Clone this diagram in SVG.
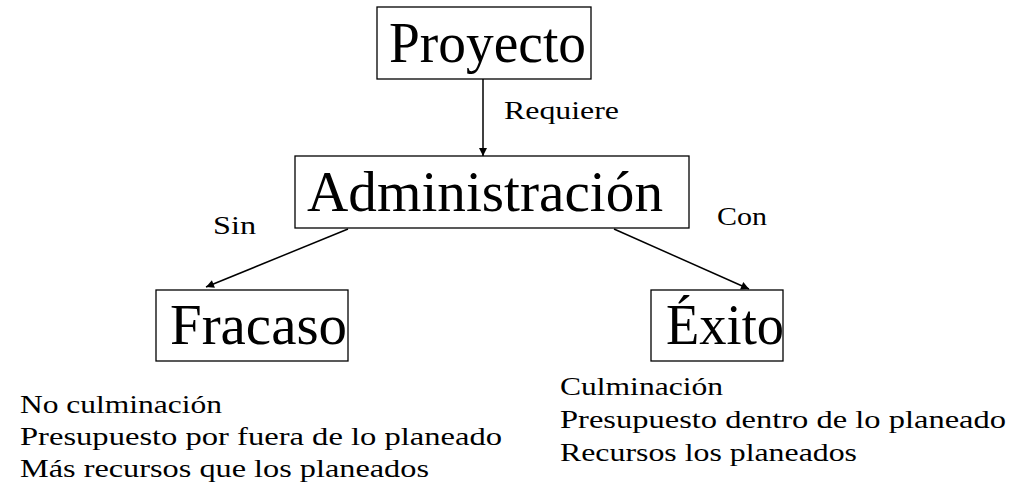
<svg xmlns="http://www.w3.org/2000/svg" width="1013" height="499" viewBox="0 0 1013 499">
<style>
.box{fill:#fff;stroke:#000;stroke-width:1.3}
.big{font-family:"Liberation Serif","DejaVu Serif",serif;font-size:56px;fill:#000}
.sm{font-family:"Liberation Serif","DejaVu Serif",serif;font-size:26px;fill:#000}
.edge{stroke:#000;stroke-width:1.5;fill:none;marker-end:url(#ah)}
</style>
<defs>
<marker id="ah" viewBox="0 0 10 10" refX="10" refY="5" markerWidth="10" markerHeight="8" markerUnits="userSpaceOnUse" orient="auto">
<path d="M0,0 L10,5 L0,10 z" fill="#000"/>
</marker>
</defs>
<rect width="1013" height="499" fill="#fff"/>
<g id="connectors">
<line class="edge" x1="483" y1="79" x2="483" y2="156"/>
<line class="edge" x1="348" y1="229" x2="206" y2="287"/>
<line class="edge" x1="614" y1="229" x2="749" y2="289"/>
<text class="sm" x="504" y="119" textLength="115" lengthAdjust="spacingAndGlyphs">Requiere</text>
<text class="sm" x="213" y="234" textLength="43" lengthAdjust="spacingAndGlyphs">Sin</text>
<text class="sm" x="717" y="225" textLength="50" lengthAdjust="spacingAndGlyphs">Con</text>
</g>
<g id="proyecto">
<rect class="box" x="377" y="7" width="214" height="72"/>
<text class="big" x="389" y="62" textLength="197" lengthAdjust="spacingAndGlyphs">Proyecto</text>
</g>
<g id="administracion">
<rect class="box" x="295" y="156" width="394" height="72"/>
<text class="big" x="307" y="211" textLength="356" lengthAdjust="spacingAndGlyphs">Administración</text>
</g>
<g id="fracaso">
<rect class="box" x="156" y="290" width="192" height="71"/>
<text class="big" x="170" y="344" textLength="177" lengthAdjust="spacingAndGlyphs">Fracaso</text>
</g>
<g id="exito">
<rect class="box" x="651" y="290" width="132" height="71"/>
<text class="big" x="666" y="344" textLength="118" lengthAdjust="spacingAndGlyphs">Éxito</text>
</g>
<g id="fracaso-notes">
<text class="sm" x="20" y="413" textLength="202" lengthAdjust="spacingAndGlyphs">No culminación</text>
<text class="sm" x="20" y="445" textLength="482" lengthAdjust="spacingAndGlyphs">Presupuesto por fuera de lo planeado</text>
<text class="sm" x="20" y="477" textLength="409" lengthAdjust="spacingAndGlyphs">Más recursos que los planeados</text>
</g>
<g id="exito-notes">
<text class="sm" x="560" y="395" textLength="163" lengthAdjust="spacingAndGlyphs">Culminación</text>
<text class="sm" x="560" y="428" textLength="446" lengthAdjust="spacingAndGlyphs">Presupuesto dentro de lo planeado</text>
<text class="sm" x="560" y="461" textLength="297" lengthAdjust="spacingAndGlyphs">Recursos los planeados</text>
</g>
</svg>
